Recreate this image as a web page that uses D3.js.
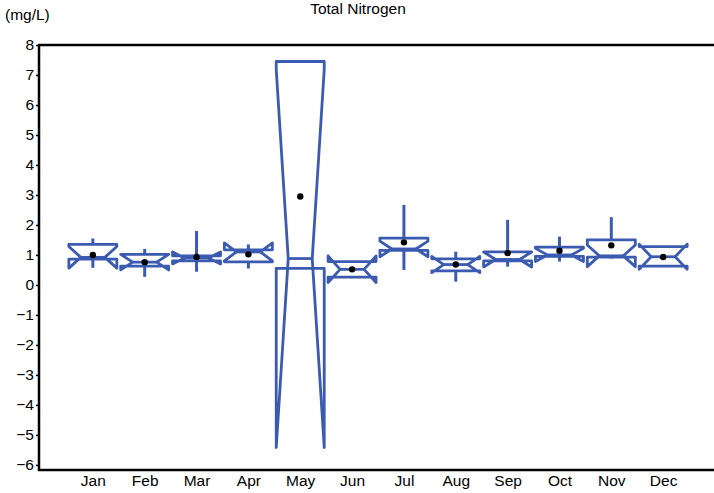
<!DOCTYPE html>
<html>
<head>
<meta charset="utf-8">
<script src="https://cdn.jsdelivr.net/npm/d3@7"></script>
<style>
  html, body { margin: 0; padding: 0; background: #fff; }
  svg { display: block; }
  text { font-family: "Liberation Sans", Arial, sans-serif; fill: #000; }
</style>
</head>
<body>
<svg id="chart" width="714" height="493"></svg>
<script>
const months    = ["Jan","Feb","Mar","Apr","May","Jun","Jul","Aug","Sep","Oct","Nov","Dec"];
const q1        = [0.86, 0.63, 0.80, 0.77, 0.55, 0.26, 1.15, 0.47, 0.80, 0.95, 0.93, 0.63];
const medians   = [0.92, 0.76, 0.90, 1.10, 0.88, 0.52, 1.20, 0.68, 0.85, 1.00, 0.97, 0.94];
const q3        = [1.35, 1.02, 0.97, 1.17, 7.45, 0.78, 1.56, 0.87, 1.10, 1.26, 1.50, 1.28];
const notchLo   = [0.56, 0.50, 0.70, 0.80, -5.42, 0.08, 0.94, 0.41, 0.60, 0.78, 0.61, 0.52];
const notchHi   = [1.28, 1.02, 1.10, 1.40, 7.18, 0.97, 1.46, 0.95, 1.10, 1.22, 1.33, 1.36];
const whiskerLo = [0.57, 0.27, 0.44, 0.55, 0.55, 0.26, 0.50, 0.11, 0.61, 0.78, 0.88, 0.63];
const whiskerHi = [1.55, 1.20, 1.80, 1.35, 7.45, 0.78, 2.67, 1.11, 2.17, 1.61, 2.26, 1.28];
const means     = [1.00, 0.76, 0.93, 1.02, 2.95, 0.52, 1.42, 0.68, 1.06, 1.14, 1.32, 0.93];
const yTicks    = [8, 7, 6, 5, 4, 3, 2, 1, 0, -1, -2, -3, -4, -5, -6];

(function () {
const svg = d3.select("#chart");
const blue = "#3b5bb0";
const fs = "15.5px";

const mLeft = 39, mRight = 714, mTop = 45, mBottom = 470;
const y = d3.scaleLinear().domain([-6.17, 8]).range([mBottom, mTop]);
const x = d3.scalePoint().domain(months).range([41, 715]).padding(1);
const boxW = 48;
const ind = boxW / 4;

svg.append("text").attr("x", 358).attr("y", 14).attr("text-anchor", "middle")
  .style("font-size", fs).text("Total Nitrogen");
svg.append("text").attr("x", 5).attr("y", 20)
  .style("font-size", fs).text("(mg/L)");

const data = months.map((m, i) => ({
  m, q1: q1[i], med: medians[i], q3: q3[i], nLo: notchLo[i], nHi: notchHi[i],
  wLo: whiskerLo[i], wHi: whiskerHi[i], mean: means[i]
}));

const g = svg.append("g");
data.forEach(d => {
  const cx = x(d.m);
  const l = cx - boxW / 2, r = cx + boxW / 2;
  const pts = [
    [l, y(d.q1)], [l, y(d.nLo)], [l + ind, y(d.med)], [l, y(d.nHi)], [l, y(d.q3)],
    [r, y(d.q3)], [r, y(d.nHi)], [r - ind, y(d.med)], [r, y(d.nLo)], [r, y(d.q1)]
  ];
  if (d.wHi > d.q3) g.append("line").attr("x1", cx).attr("x2", cx)
    .attr("y1", y(d.q3)).attr("y2", y(d.wHi))
    .attr("stroke", blue).attr("stroke-width", 3);
  if (d.wLo < d.q1) g.append("line").attr("x1", cx).attr("x2", cx)
    .attr("y1", y(d.q1)).attr("y2", y(d.wLo))
    .attr("stroke", blue).attr("stroke-width", 3);
  g.append("path")
    .attr("d", d3.line()(pts) + "Z")
    .attr("fill", "none").attr("stroke", blue).attr("stroke-width", 2.8)
    .attr("stroke-linejoin", "round");
  g.append("line")
    .attr("x1", l + ind).attr("x2", r - ind)
    .attr("y1", y(d.med)).attr("y2", y(d.med))
    .attr("stroke", blue).attr("stroke-width", 2.8);
  g.append("circle").attr("cx", cx).attr("cy", y(d.mean)).attr("r", 3.2).attr("fill", "#000");
});

const yAxis = d3.axisLeft(y).tickValues(yTicks).tickSize(3).tickPadding(2).tickFormat(d3.format("d"));
const ya = svg.append("g").attr("transform", `translate(${mLeft},0)`).call(yAxis);
ya.select(".domain").remove();
ya.selectAll("text").style("font-size", fs).attr("fill", "#000");
ya.selectAll("line").attr("stroke", "#000").attr("stroke-width", 1.5);

const xAxis = d3.axisBottom(x).tickSize(0).tickPadding(5);
const xa = svg.append("g").attr("transform", `translate(0,${mBottom})`).call(xAxis);
xa.select(".domain").remove();
xa.selectAll("text").style("font-size", fs).attr("fill", "#000");

svg.append("line").attr("x1", mLeft).attr("x2", mLeft).attr("y1", mTop - 1).attr("y2", mBottom + 1)
  .attr("stroke", "#000").attr("stroke-width", 2.5);
svg.append("line").attr("x1", mLeft - 1).attr("x2", mRight).attr("y1", mTop).attr("y2", mTop)
  .attr("stroke", "#000").attr("stroke-width", 2.5);
svg.append("line").attr("x1", mLeft - 1).attr("x2", mRight).attr("y1", mBottom).attr("y2", mBottom)
  .attr("stroke", "#000").attr("stroke-width", 2.5);
})();
</script>
</body>
</html>
